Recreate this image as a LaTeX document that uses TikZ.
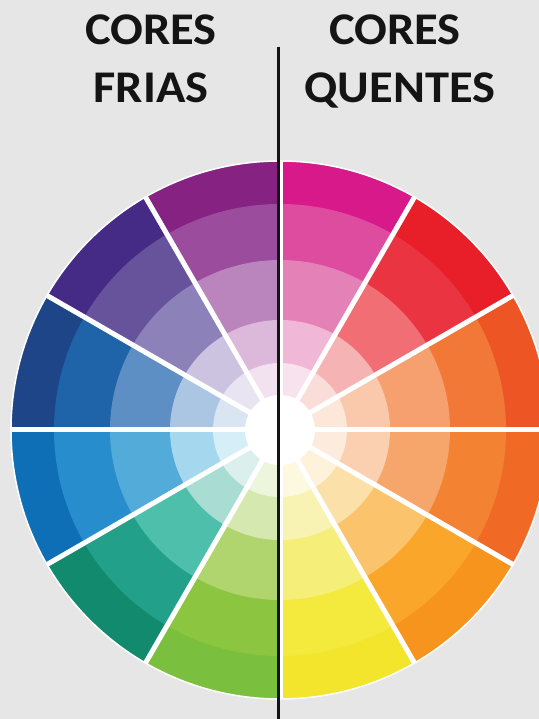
\documentclass[tikz,border=0pt]{standalone}
\usepackage{fontspec}
\setmainfont{Carlito}
\usetikzlibrary{calc}
\definecolor{bggray}{HTML}{E6E6E6}
\definecolor{linecol}{HTML}{141414}
\newcommand\colwedge[6]{%
  \definecolor{wa}{HTML}{#2}\definecolor{wb}{HTML}{#3}\definecolor{wc}{HTML}{#4}%
  \definecolor{wd}{HTML}{#5}\definecolor{we}{HTML}{#6}%
  \fill[wa] (C) -- ++(#1:269bp) arc[start angle=#1, delta angle=30, radius=269bp] -- cycle;
  \fill[wb] (C) -- ++(#1:226bp) arc[start angle=#1, delta angle=30, radius=226bp] -- cycle;
  \fill[wc] (C) -- ++(#1:170bp) arc[start angle=#1, delta angle=30, radius=170bp] -- cycle;
  \fill[wd] (C) -- ++(#1:110bp) arc[start angle=#1, delta angle=30, radius=110bp] -- cycle;
  \fill[we] (C) -- ++(#1:67bp) arc[start angle=#1, delta angle=30, radius=67bp] -- cycle;
}
\tikzset{
  title/.style={anchor=base, font=\fontsize{45.5}{48}\selectfont\bfseries, text=linecol, inner sep=0pt, xscale=1.07},
  sep/.style={white, line width=5bp},
}
\begin{document}
\begin{tikzpicture}[x=1bp,y=1bp]
\useasboundingbox (0,0) rectangle (539,719);
\clip (0,0) rectangle (539,719);
\fill[bggray] (0,0) rectangle (539,719);
\coordinate (C) at (280,289);
\colwedge{60}{D8198A}{DE4C9F}{E482B8}{F0B8D6}{F8E2EE}
\colwedge{30}{E81E28}{EB3442}{F06E74}{F6B3B3}{FADDD9}
\colwedge{0}{EE5524}{F27838}{F6A070}{FAC9AB}{FDE7D9}
\colwedge{-30}{F06A25}{F38233}{F6A56B}{FAD0B0}{FDEBDE}
\colwedge{-60}{F7941D}{FAA62A}{FBC36C}{FCE0A9}{FEF2DB}
\colwedge{-90}{F2E52C}{F4EA3E}{F5EE78}{F8F3B2}{FCF9E0}
\colwedge{-120}{7BBF3E}{8CC640}{B0D56F}{D5E8AF}{EEF5DD}
\colwedge{-150}{128A6E}{22A08A}{4EBFAB}{A9DDD4}{DBF0EC}
\colwedge{180}{0E6EB6}{288DCD}{53ABDA}{A5D8EF}{D6EEF7}
\colwedge{150}{1E4587}{1F63A8}{5E8FC4}{AAC6E2}{D9E6F2}
\colwedge{120}{452A86}{67529C}{8D81B9}{CBC3DF}{E9E4F1}
\colwedge{90}{862282}{9C4C9C}{BA84BD}{DCB9DA}{F2E1EF}
\foreach \a in {0,30,...,330} \draw[sep] (C) -- ++(\a:269bp);
\draw[white, line width=1.5bp] (C) circle[radius=269bp];
\fill[white] (C) circle[radius=35bp];
\coordinate (Ltop) at (278,672);
\coordinate (Lbot) at (278,0);
\draw[linecol, line width=3bp] (Ltop) -- (Lbot);
\node[title] (fria1) at (151,674) {CORES};
\node[title] (fria2) at (151,616) {FRIAS};
\node[title] (quen1) at (395,674) {CORES};
\node[title] (quen2) at (400,616) {QUENTES};
\end{tikzpicture}
\end{document}
